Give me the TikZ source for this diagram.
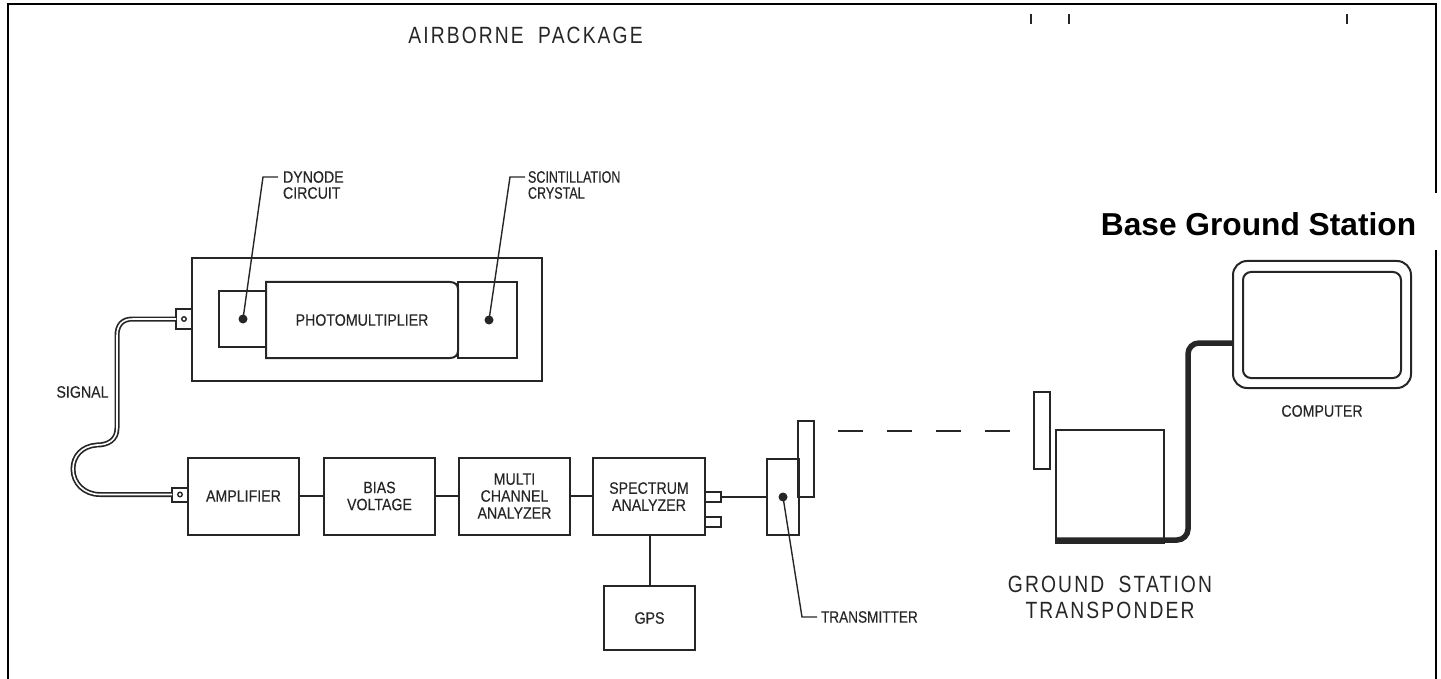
\documentclass[tikz,border=0pt]{standalone}
\usepackage{fontspec}
\setmainfont{Liberation Sans}
\newfontfamily\draftfont[FakeStretch=0.86,FakeBold=0.25]{Liberation Sans}
\newfontfamily\narrowfont[FakeStretch=0.76,FakeBold=0.25]{Liberation Sans}
\newfontfamily\txfont[FakeStretch=0.825,FakeBold=0.25]{Liberation Sans}
\newfontfamily\widefont[FakeStretch=0.82,LetterSpace=9]{Liberation Sans}
\definecolor{ink}{HTML}{262626}
\tikzset{
  every node/.style={inner sep=0pt,outer sep=0pt,text=ink},
  ln/.style={draw=ink,line width=2pt},
  thinln/.style={draw=ink,line width=1.4pt},
  lbl/.style={font=\draftfont\fontsize{16.5}{17}\selectfont,align=center},
  lbll/.style={font=\draftfont\fontsize{16.5}{16}\selectfont,align=left,anchor=west},
  bigl/.style={font=\widefont\fontsize{23.5}{26}\selectfont,align=center},
  dotn/.style={circle,fill=ink,minimum size=9pt},
  framel/.style={draw=black,line width=2pt},
}
\begin{document}
\begin{tikzpicture}[x=1pt,y=-1pt]
\useasboundingbox (0,0) rectangle (1441,679);
% frame
\coordinate (fa) at (1436,193);
\coordinate (fb) at (1436,4);
\coordinate (fc) at (8,4);
\coordinate (fd) at (8,679);
\coordinate (fe) at (1436,250);
\coordinate (ff) at (1436,679);
\draw[framel] (fa) -- (fb) -- (fc) -- (fd);
\draw[framel] (fe) -- (ff);
\node[font=\bfseries\fontsize{31.7}{36}\selectfont,text=black] (base) at (1258.5,224) {Base Ground Station};
\node[bigl] (air) at (525.5,35) {AIRBORNE\hspace{7pt} PACKAGE};
% ticks
\foreach \n/\x in {t1/1031,t2/1069,t3/1347}{
  \coordinate (\n a) at (\x,14); \coordinate (\n b) at (\x,24.5);
  \draw[draw=ink,line width=2pt] (\n a) -- (\n b);
}
% detector
\node[ln,minimum width=350pt,minimum height=123pt] (case) at (367,319.5) {};
\node[ln,minimum width=47pt,minimum height=56pt] (dyn) at (242.5,319) {};
\node[ln,minimum width=59pt,minimum height=76pt] (cry) at (487.5,320) {};
\node[lbl] (pmt) at (362,320) {PHOTOMULTIPLIER};
\draw[ln] (266,282) -- (450,282) .. controls (455,282) and (458,285) .. (458,289) -- (458,351) .. controls (458,355) and (455,358) .. (450,358) -- (266,358) -- cycle;
\node[dotn] (d1) at (243,319) {};
\node[dotn] (d2) at (489,320) {};
\coordinate (k1) at (263,177);
\coordinate (k2) at (510,177);
\node[lbll] (dl) at (283,185) {DYNODE\\CIRCUIT};
\node[lbll,font=\narrowfont\fontsize{16.5}{16}\selectfont] (sl) at (528,185) {SCINTILLATION\\CRYSTAL};
\coordinate (k1e) at (278,177);
\coordinate (k2e) at (525,177);
\draw[thinln] (d1.center) -- (k1) -- (k1e);
\draw[thinln] (d2.center) -- (k2) -- (k2e);
% connectors
\node[ln,minimum width=16pt,minimum height=20pt] (c1) at (184,319) {};
\node[circle,draw=ink,line width=1.4pt,minimum size=4.5pt] at (184,319) {};
\node[ln,minimum width=16pt,minimum height=14pt] (c2) at (180,494.5) {};
\node[circle,draw=ink,line width=1.4pt,minimum size=4.5pt] at (180,494.5) {};
% cable
\def\cablepath{(c1.west) -- (133,319) .. controls (122,319) and (117,325) .. (117,336) -- (117,428) .. controls (117,440) and (108,445) .. (97,445) .. controls (82,446) and (73,456) .. (73,469) .. controls (73,483) and (84,494.5) .. (100,494.5) -- (c2.west)}
\draw[draw=ink,line width=5pt] \cablepath;
\draw[draw=white,line width=1.6pt] \cablepath;
\node[lbl] (sig) at (82.5,392) {SIGNAL};
% chain
\node[ln,minimum width=111pt,minimum height=77pt,lbl] (amp) at (243.5,496) {AMPLIFIER};
\node[ln,minimum width=111pt,minimum height=77pt,lbl] (bias) at (379.5,496) {BIAS\\VOLTAGE};
\node[ln,minimum width=111pt,minimum height=77pt,lbl] (mca) at (514.5,496) {MULTI\\CHANNEL\\ANALYZER};
\node[ln,minimum width=112pt,minimum height=77pt,lbl] (spec) at (649,496.5) {SPECTRUM\\ANALYZER};
\node[ln,minimum width=91pt,minimum height=64pt,lbl] (gps) at (649.5,618) {GPS};
\draw[ln] (amp) -- (bias);
\draw[ln] (bias) -- (mca);
\draw[ln] (mca.east) -- (mca.east -| spec.west);
\draw[ln] (spec.south -| gps.north) -- (gps.north);
\node[ln,minimum width=16pt,minimum height=10pt] (p1) at (713,497) {};
\node[ln,minimum width=16pt,minimum height=10pt] (p2) at (713,522) {};
\node[ln,minimum width=32pt,minimum height=76pt] (tx) at (783,497) {};
\node[ln,minimum width=16pt,minimum height=76pt] (ant) at (806,459) {};
\draw[ln] (p1.east) -- (tx.west |- p1.east);
\node[dotn] (d3) at (783,497) {};
\coordinate (k3) at (802,617);
\coordinate (k3e) at (817,617);
\draw[thinln] (d3.center) -- (k3) -- (k3e);
\node[lbll,font=\txfont\fontsize{16.5}{16}\selectfont] (txl) at (821,617) {TRANSMITTER};
% link
\coordinate (l1) at (838,431); \coordinate (l2) at (1010,431);
\draw[thinln,dash pattern=on 25pt off 24pt] (l1) -- (l2);
% ground
\node[ln,minimum width=16pt,minimum height=77pt] (gant) at (1042,430.5) {};
\node[thinln,minimum width=108pt,minimum height=113pt] (gbox) at (1110,486.5) {};
\node[ln,rounded corners=14pt,minimum width=178pt,minimum height=127pt] (comp) at (1322,324.5) {};
\node[ln,rounded corners=8pt,minimum width=158pt,minimum height=106pt] (scr) at (1322,325) {};
\coordinate (cb) at (1056,540);
\draw[draw=ink,line width=5.5pt,rounded corners=11pt] (cb) -- (1188,540) -- (1188,343) -- (comp.west |- 0,343);
\node[lbl] (compl) at (1322,411) {COMPUTER};
\node[bigl] (gsl) at (1110,597) {GROUND\hspace{7pt} STATION\\TRANSPONDER};
\end{tikzpicture}
\end{document}
